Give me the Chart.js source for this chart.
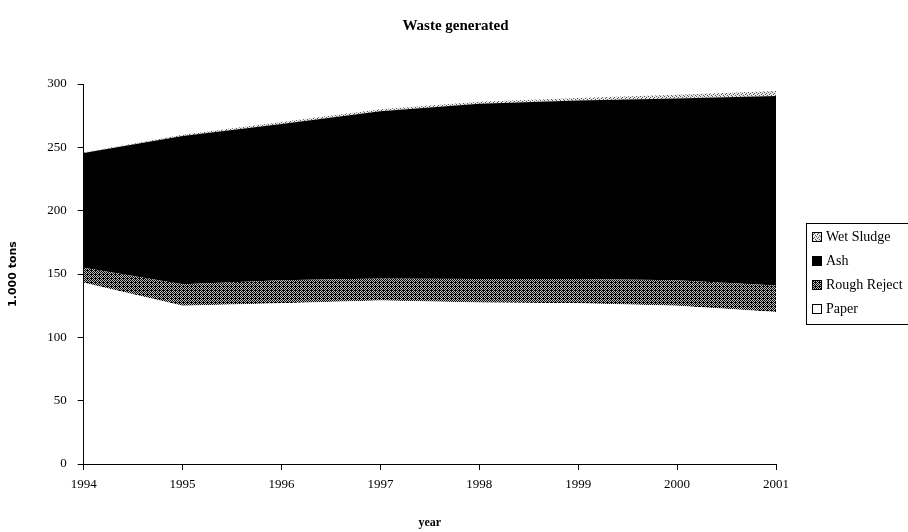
<!DOCTYPE html>
<html>
<head>
<meta charset="utf-8">
<script src="https://cdn.jsdelivr.net/npm/chart.js@4"></script>
<style>
  html, body { margin: 0; padding: 0; background: #fff; }
  #box { width: 908px; height: 532px; }
</style>
</head>
<body>
<div id="box"><canvas id="grafico"></canvas></div>
<script>
// datos
const years = ["1994", "1995", "1996", "1997", "1998", "1999", "2000", "2001"];
const paper = [143, 125, 127, 129, 127.5, 127, 125, 120];
const roughReject = [12, 17, 18, 17.5, 18.5, 19, 20, 21];
const ash = [90.5, 117, 123.5, 132, 138.5, 141, 143.5, 149.5];
const wetSludge = [0.5, 1, 1.5, 1.5, 1.5, 2, 3, 4];
const yTicks = [0, 50, 100, 150, 200, 250, 300];

const serif = "'Liberation Serif', 'DejaVu Serif', serif";

// tramas tipo "dither"
function trama(fg, bg, pattern) {
  const c = document.createElement("canvas");
  c.width = 4;
  c.height = 4;
  const ctx = c.getContext("2d");
  ctx.fillStyle = bg;
  ctx.fillRect(0, 0, 4, 4);
  ctx.fillStyle = fg;
  pattern.forEach(([x, y]) => ctx.fillRect(x, y, 1, 1));
  return ctx.createPattern(c, "repeat");
}

const rrFill = trama("#000", "#bdbdbd", [[0, 0], [2, 0], [1, 1], [3, 1], [0, 2], [2, 2], [3, 3], [1, 3], [3, 2]]);
const wsFill = trama("#555", "#e6e6e6", [[0, 0], [2, 1], [1, 2], [3, 3]]);

const canvas = document.getElementById("grafico");

// leyenda con recuadro, dibujada a mano a la derecha
const leyenda = {
  id: "leyenda",
  afterDraw(chart) {
    const ctx = chart.ctx;
    const area = chart.chartArea;
    const left = area.right + 30;
    const top = Math.round((area.top + area.bottom) / 2) - 51;
    const alto = 101;
    ctx.save();
    ctx.strokeStyle = "#000";
    ctx.lineWidth = 1;
    ctx.strokeRect(left + 0.5, top + 0.5, 140, alto);
    ctx.font = "14px " + serif;
    ctx.textBaseline = "middle";
    const items = chart.data.datasets.slice().reverse();
    items.forEach((ds, i) => {
      const y = top + 14 + i * 24;
      ctx.fillStyle = ds.backgroundColor;
      ctx.fillRect(left + 6, y - 5, 10, 10);
      ctx.strokeRect(left + 6.5, y - 4.5, 9, 9);
      ctx.fillStyle = "#000";
      ctx.fillText(ds.label, left + 20, y);
    });
    ctx.restore();
  },
};

const serie = (label, data, fill, bg) => ({
  label,
  data,
  fill,
  backgroundColor: bg,
  borderColor: "#000",
  borderWidth: 0,
  pointRadius: 0,
  tension: 0,
});

new Chart(canvas, {
  type: "line",
  data: {
    labels: years,
    datasets: [
      serie("Paper", paper, "origin", "#fff"),
      serie("Rough Reject", roughReject, "-1", rrFill),
      serie("Ash", ash, "-1", "#000"),
      serie("Wet Sludge", wetSludge, "-1", wsFill),
    ],
  },
  options: {
    responsive: true,
    maintainAspectRatio: false,
    animation: false,
    layout: { padding: { top: 6, right: 0, bottom: 0, left: 3 } },
    plugins: {
      title: {
        display: true,
        text: "Waste generated",
        color: "#000",
        font: { family: serif, size: 15, weight: "bold" },
        padding: { top: 11, bottom: 49 },
      },
      legend: { display: false },
      tooltip: { enabled: false },
    },
    scales: {
      x: {
        type: "category",
        offset: false,
        grid: { display: true, drawOnChartArea: false, color: "#000", tickLength: 6 },
        border: { color: "#000" },
        ticks: { color: "#000", font: { family: serif, size: 13 }, maxRotation: 0, padding: 7 },
        title: {
          display: true,
          text: "year",
          color: "#000",
          font: { family: serif, size: 12, weight: "bold" },
          padding: { top: 16, bottom: 2 },
        },
      },
      y: {
        stacked: true,
        min: 0,
        max: 300,
        afterBuildTicks(axis) {
          axis.ticks = yTicks.map((v) => ({ value: v }));
        },
        grid: { display: true, drawOnChartArea: false, color: "#000", tickLength: 6 },
        border: { color: "#000" },
        ticks: { color: "#000", font: { family: serif, size: 13 }, padding: 11 },
        title: {
          display: true,
          text: "1.000 tons",
          color: "#000",
          font: { family: "'DejaVu Sans', sans-serif", size: 11, weight: "bold" },
          padding: { bottom: 16 },
        },
      },
      // eje vacio a la derecha: reserva el sitio de la leyenda
      hueco: {
        type: "linear",
        position: "right",
        display: true,
        grid: { display: false },
        border: { display: false },
        ticks: { display: false },
        afterFit(scale) {
          scale.width = 132;
        },
      },
    },
  },
  plugins: [leyenda],
});
</script>
</body>
</html>
